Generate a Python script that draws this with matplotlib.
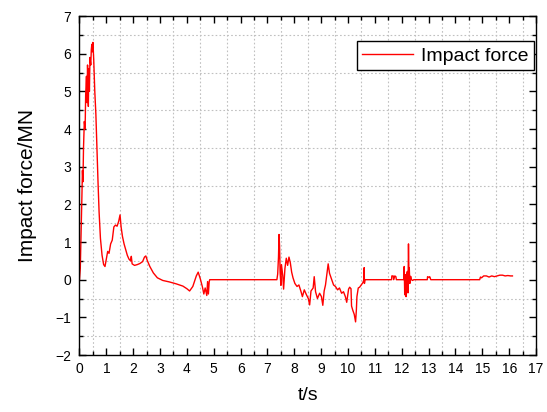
import matplotlib
matplotlib.use("Agg")
import matplotlib.pyplot as plt
from matplotlib.ticker import MultipleLocator

plt.rcParams["font.family"] = ["Liberation Sans", "DejaVu Sans"]

# impact force record (t in s, force in MN)
t_values = [
    0.00, 0.03, 0.06, 0.09, 0.11, 0.13, 0.15, 0.18, 0.21, 0.23, 0.26, 0.28,
    0.30, 0.32, 0.33, 0.35, 0.37, 0.39, 0.42, 0.44, 0.46, 0.48, 0.50, 0.53,
    0.57, 0.61, 0.65, 0.69, 0.73, 0.78, 0.84, 0.90, 0.95, 1.00, 1.05, 1.10,
    1.16, 1.22, 1.28, 1.34, 1.40, 1.46, 1.51, 1.55, 1.60, 1.66, 1.72, 1.78,
    1.84, 1.90, 1.93, 1.96, 2.05, 2.15, 2.25, 2.35, 2.42, 2.47, 2.53, 2.62,
    2.75, 2.90, 3.10, 3.35, 3.60, 3.85, 4.00, 4.10, 4.22, 4.35, 4.42, 4.50,
    4.58, 4.63, 4.68, 4.74, 4.77, 4.80, 4.83, 4.85,
    7.35, 7.38, 7.41, 7.43, 7.45, 7.47, 7.50, 7.52, 7.57, 7.60, 7.65, 7.70,
    7.75, 7.80, 7.85, 7.90, 7.95, 8.02, 8.10, 8.17, 8.25, 8.30, 8.37, 8.45,
    8.52, 8.57, 8.62, 8.70, 8.74, 8.79, 8.86, 8.94, 9.01, 9.06, 9.11, 9.16,
    9.21, 9.26, 9.31, 9.39, 9.46, 9.53, 9.61, 9.68, 9.76, 9.83, 9.90, 9.95,
    10.02, 10.06, 10.11, 10.13, 10.18, 10.23, 10.28, 10.31, 10.33, 10.38,
    10.43, 10.55, 10.59, 10.60, 10.61, 10.63,
    11.62, 11.63, 11.68, 11.70, 11.74, 11.78, 11.80,
    12.07, 12.09, 12.11, 12.13, 12.16, 12.18, 12.21, 12.23, 12.25, 12.27,
    12.28, 12.30, 12.33, 12.36, 12.40, 12.45,
    12.95, 12.96, 13.02, 13.04, 13.08,
    14.90, 14.93, 14.97, 15.05, 15.15, 15.25, 15.35, 15.45, 15.55, 15.65,
    15.75, 15.85, 15.95, 16.05, 16.12,
]
force_values = [
    0.00, 0.30, 1.20, 2.20, 2.90, 2.60, 3.50, 4.20, 4.00, 4.90, 5.40, 4.70,
    5.70, 5.20, 4.60, 5.60, 5.00, 5.90, 5.70, 6.10, 6.25, 6.05, 6.30, 5.85,
    5.00, 4.40, 3.50, 2.60, 1.80, 1.10, 0.65, 0.40, 0.35, 0.55, 0.75, 0.70,
    0.95, 1.05, 1.40, 1.45, 1.42, 1.55, 1.72, 1.40, 1.15, 0.95, 0.80, 0.65,
    0.55, 0.50, 0.62, 0.42, 0.38, 0.40, 0.43, 0.48, 0.60, 0.63, 0.50, 0.35,
    0.18, 0.05, -0.02, -0.06, -0.11, -0.17, -0.24, -0.30, -0.18, 0.10, 0.20, 0.02,
    -0.20, -0.38, -0.22, -0.42, -0.05, -0.38, -0.05, 0.00,
    0.00, 0.15, 0.60, 1.20, 0.90, 0.20, -0.15, 0.40, 0.10, -0.25, 0.30, 0.57,
    0.38, 0.60, 0.45, 0.20, 0.05, -0.10, -0.18, -0.14, -0.32, -0.45, -0.27, -0.40,
    -0.50, -0.67, -0.30, -0.22, 0.08, -0.32, -0.50, -0.36, -0.45, -0.68, -0.30, -0.14,
    0.13, 0.42, 0.17, 0.00, -0.14, -0.18, -0.27, -0.22, -0.36, -0.32, -0.45, -0.60,
    -0.25, -0.20, -0.24, -0.70, -0.82, -0.92, -1.12, -0.80, -0.45, -0.22,
    -0.20, -0.08, 0.00, 0.32, -0.10, 0.00,
    0.00, 0.10, 0.10, 0.00, 0.10, 0.08, 0.00,
    0.00, 0.35, -0.40, 0.13, -0.45, 0.15, 0.22, -0.35, 0.95, 0.00,
    0.31, -0.10, 0.09, 0.00, -0.02, 0.00,
    0.00, 0.08, 0.06, 0.08, 0.00,
    0.00, 0.07, 0.05, 0.10, 0.10, 0.07, 0.10, 0.08, 0.10, 0.12,
    0.12, 0.10, 0.11, 0.10, 0.10,
]

x_ticks = list(range(0, 18))
y_ticks = list(range(-2, 8))

fig = plt.figure(figsize=(5.47, 4.12), dpi=100)
ax = fig.add_axes([0.1453, 0.1383, 0.8347, 0.8228])

ax.plot(t_values, force_values, color="#ff0000", linewidth=1.0, label="Impact force")

ax.set_xlim(0, 17)
ax.set_ylim(-2, 7)
ax.set_xticks(x_ticks)
ax.set_yticks(y_ticks)
ax.xaxis.set_minor_locator(MultipleLocator(0.5))
ax.yaxis.set_minor_locator(MultipleLocator(0.5))

ax.tick_params(which="both", direction="in", top=True, right=True, width=1.0, color="black")
ax.tick_params(which="major", length=5, labelsize=10)
ax.tick_params(which="minor", length=3)
ax.tick_params(axis="x", which="major", pad=5)
ax.tick_params(axis="y", which="major", pad=6)

# Origin style: dotted grid only on the minor positions
ax.grid(which="minor", linestyle=(0, (1.5, 2)), color="#c0c0c0", linewidth=0.8)
ax.grid(which="major", visible=False)
ax.set_axisbelow(True)

for spine in ax.spines.values():
    spine.set_linewidth(1.0)

ax.set_xlabel("t/s", fontsize=14, labelpad=8)
ax.set_ylabel("Impact force/MN", fontsize=15, labelpad=13)

leg = ax.legend(
    loc="upper right",
    bbox_to_anchor=(0.996, 0.925),
    borderaxespad=0,
    fontsize=14,
    handlelength=2.6,
    handletextpad=0.45,
    borderpad=0.28,
    fancybox=False,
    framealpha=1,
)
leg.get_frame().set_edgecolor("black")
leg.get_frame().set_linewidth(1.0)

fig.savefig("out.png", dpi=100)
